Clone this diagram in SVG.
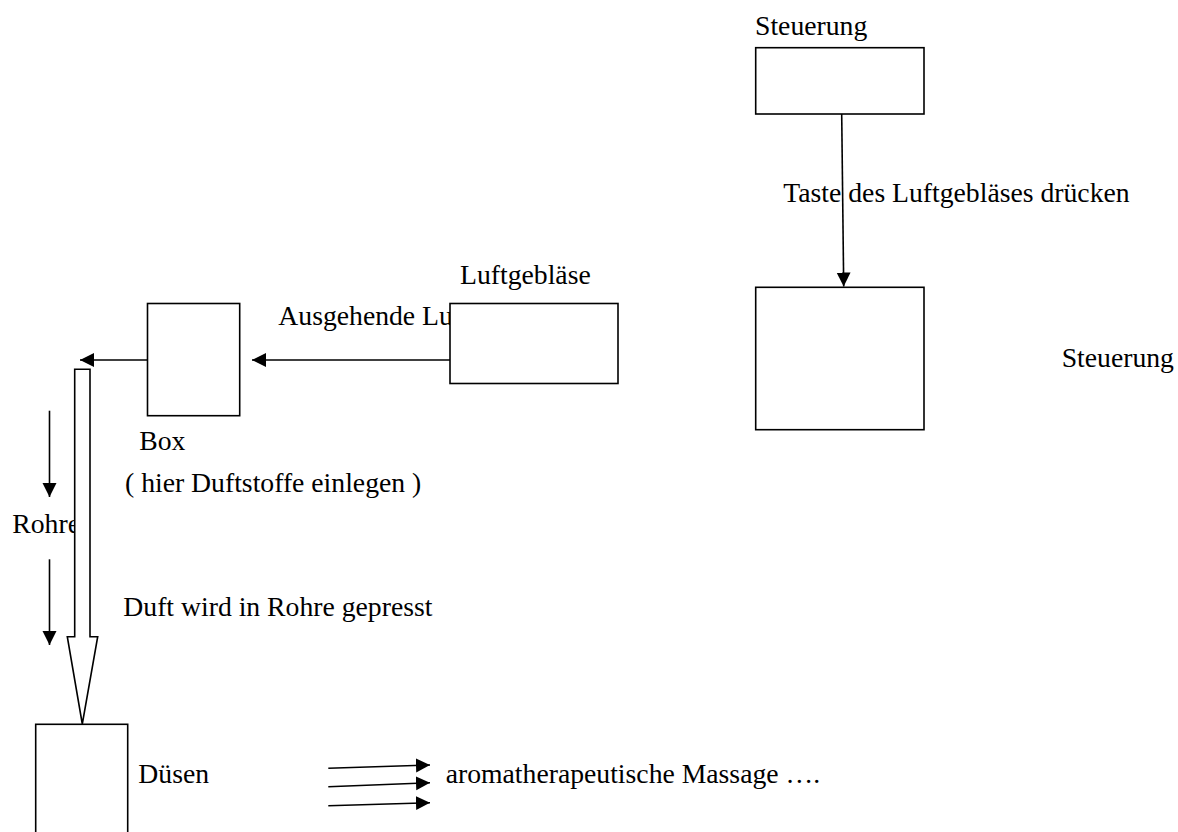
<svg xmlns="http://www.w3.org/2000/svg" width="1178" height="832" viewBox="0 0 1178 832">
<style>
  text { font-family: "Liberation Serif", "Times New Roman", serif; font-size: 27.7px; fill: #000; }
  .box { fill: #fff; stroke: #000; stroke-width: 1.6; }
  .con { fill: none; stroke: #000; stroke-width: 1.6; }
</style>
<defs>
  <marker id="ah" markerUnits="userSpaceOnUse" markerWidth="15" markerHeight="15" refX="14" refY="7" orient="auto" viewBox="0 0 15 15">
    <path d="M0,0 L14,7 L0,14 z" fill="#000"/>
  </marker>
</defs>
<rect width="1178" height="832" fill="#fff"/>

<g id="labels-free">
  <text x="278.3" y="325">Ausgehende Lu</text>
  <text x="12.3" y="533">Rohre</text>
</g>

<g id="connectors">
  <line class="con" x1="841.7" y1="114" x2="843.7" y2="286.5" marker-end="url(#ah)"/>
  <line class="con" x1="450" y1="360" x2="252" y2="360" marker-end="url(#ah)"/>
  <line class="con" x1="147.5" y1="360" x2="80" y2="360" marker-end="url(#ah)"/>
  <line class="con" x1="49.5" y1="410.7" x2="49.5" y2="497" marker-end="url(#ah)"/>
  <line class="con" x1="49.5" y1="559.3" x2="49.5" y2="645" marker-end="url(#ah)"/>
  <line class="con" x1="328.3" y1="768.3" x2="430" y2="765" marker-end="url(#ah)"/>
  <line class="con" x1="328.3" y1="786.7" x2="430" y2="782.7" marker-end="url(#ah)"/>
  <line class="con" x1="328.3" y1="805.7" x2="430" y2="802.7" marker-end="url(#ah)"/>
</g>

<g id="pipe">
  <path class="box" d="M74.7,369.3 L90,369.3 L90,636.7 L97.7,636.7 L82.3,724 L67.3,636.7 L74.7,636.7 Z"/>
</g>

<g id="steuerung-top">
  <rect class="box" x="755.7" y="47.7" width="168.3" height="66.3"/>
  <text x="755" y="35">Steuerung</text>
</g>

<g id="steuerung-main">
  <rect class="box" x="755.7" y="287.3" width="168.3" height="142.4"/>
  <text x="1061.7" y="366.7">Steuerung</text>
</g>

<g id="luftgeblaese">
  <rect class="box" x="450" y="303.5" width="168" height="80"/>
  <text x="460" y="284">Luftgebläse</text>
</g>

<g id="box">
  <rect class="box" x="147.5" y="303.5" width="92.2" height="112.2"/>
  <text x="139.3" y="450">Box</text>
  <text x="125" y="491.7">( hier Duftstoffe einlegen )</text>
</g>

<g id="duesen">
  <rect class="box" x="35.7" y="724.3" width="92" height="130"/>
  <text x="138.3" y="783.3">Düsen</text>
</g>

<g id="texts">
  <text x="783.3" y="201.7">Taste des Luftgebläses drücken</text>
  <text x="123.3" y="616">Duft wird in Rohre gepresst</text>
  <text x="445.7" y="783.3">aromatherapeutische Massage ….</text>
</g>
</svg>
